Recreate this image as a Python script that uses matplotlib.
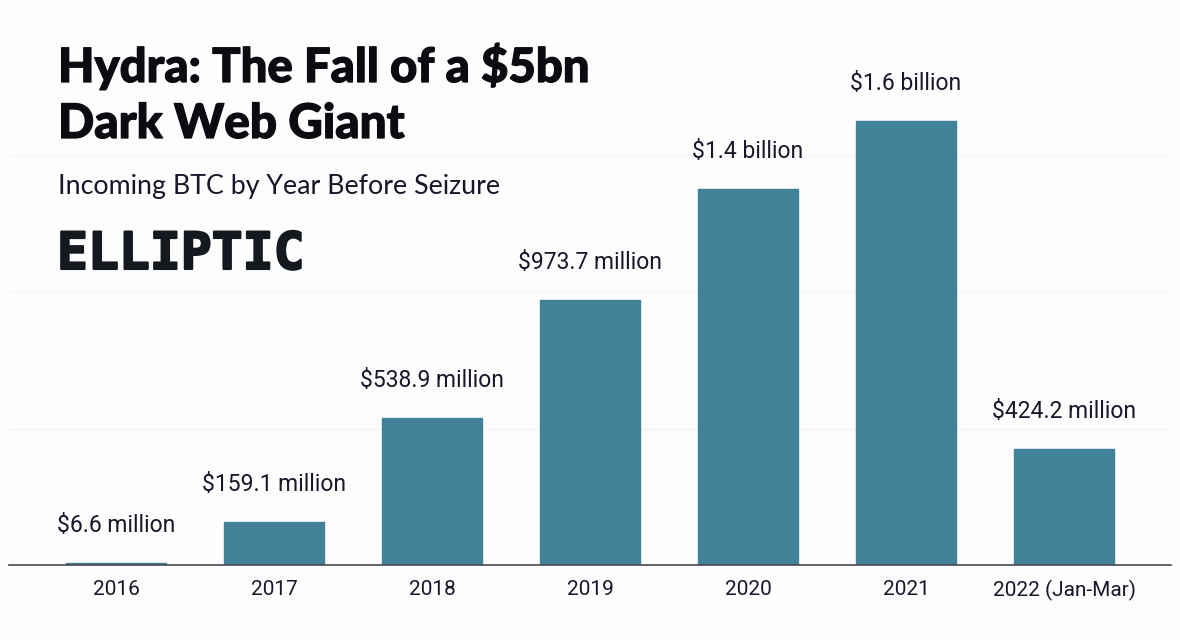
import matplotlib
matplotlib.use("Agg")
import matplotlib.pyplot as plt
import matplotlib.patheffects as pe

categories = ["2016", "2017", "2018", "2019", "2020", "2021", "2022 (Jan-Mar)"]
values = [6.6, 159.1, 538.9, 973.7, 1380, 1627, 424.2]
value_labels = ["$6.6 million", "$159.1 million", "$538.9 million", "$973.7 million",
                "$1.4 billion", "$1.6 billion", "$424.2 million"]
grid_values = [500, 1000, 1500]

W, H = 1180, 640
BG = "#fdfdfe"
BAR = "#428298"
INK = "#1c1428"

fig = plt.figure(figsize=(W / 100, H / 100), dpi=100, facecolor=BG)
left, right, base, top = 9, 1171, 565, 20
ax = fig.add_axes([left / W, 1 - base / H, (right - left) / W, (base - top) / H])
ax.set_facecolor("none")

ax.set_xlim(-0.677, 6.677)
ax.set_ylim(0, (base - top) / 0.2726)

ax.bar(range(len(values)), values, width=0.636, color=BAR, edgecolor=BAR,
       linewidth=1.0, joinstyle="round", zorder=2)
for y in grid_values:
    ax.axhline(y, color="#f3f5f8", lw=1.0, zorder=1)

for i, (v, lab) in enumerate(zip(values, value_labels)):
    ax.annotate(lab, (i, v), xytext=(0, 26), textcoords="offset pixels",
                ha="center", va="bottom", fontsize=16.5, family="Roboto", color=INK)

for s in ("top", "left", "right"):
    ax.spines[s].set_visible(False)
ax.spines["bottom"].set_color("#4a4750")
ax.spines["bottom"].set_linewidth(1.2)
ax.spines["bottom"].set_zorder(3)
ax.set_yticks([])
ax.set_xticks(range(len(categories)))
ax.set_xticklabels(categories, fontsize=15, family="Roboto", color=INK)
ax.tick_params(axis="x", length=0, pad=11)

heavy = [pe.withStroke(linewidth=0.9, foreground="#0d0a12")]
fig.text(58 / W, 1 - 82 / H, "Hydra: The Fall of a $5bn", family="Lato", weight="black",
         fontsize=34, color="#0d0a12", va="baseline", path_effects=heavy)
fig.text(58 / W, 1 - 138 / H, "Dark Web Giant", family="Lato", weight="black",
         fontsize=34.3, color="#0d0a12", va="baseline", path_effects=heavy)
fig.text(58 / W, 1 - 194 / H, "Incoming BTC by Year Before Seizure", family="Lato",
         fontsize=19.3, color="#1c1428", va="baseline")
fig.text(57 / W, 1 - 269 / H, "ELLIPTIC", family="DejaVu Sans Mono", weight="bold",
         fontsize=37, color="#14181f", va="baseline",
         path_effects=[pe.withStroke(linewidth=1.5, foreground="#14181f")])

fig.savefig("out.png", dpi=100, facecolor=BG)
